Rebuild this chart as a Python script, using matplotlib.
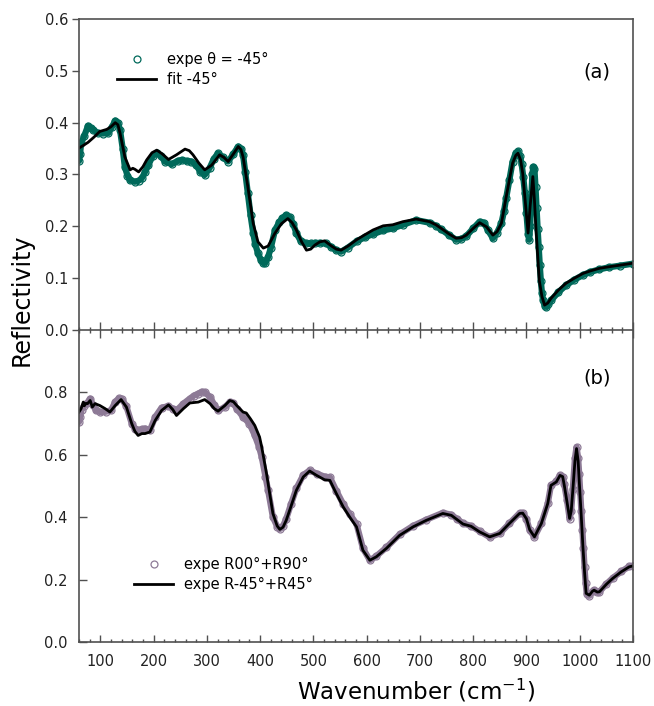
import matplotlib.pyplot as plt
from matplotlib.ticker import MultipleLocator

# (a) experiment theta = -45 deg
wn_a_exp = [60, 62, 64, 70, 77, 82, 87, 95, 105, 115, 122, 128, 133, 137, 142, 146, 151, 156,
            165, 172, 178, 184, 190, 198, 206, 214, 221, 234, 245, 253, 262, 271, 280, 288,
            296, 305, 313, 321, 330, 340, 350, 359, 364, 368, 372, 377, 382, 387, 391, 396,
            401, 406, 410, 415, 420, 428, 436, 442, 449, 456, 462, 468, 476, 487, 495, 503,
            512, 524, 534, 543, 552, 565, 581, 597, 612, 631, 649, 668, 693, 718, 730, 740,
            755, 768, 778, 787, 800, 812, 820, 828, 837, 845, 853, 858, 862, 868, 874, 880,
            884, 888, 891, 894, 897, 900, 903, 905, 907, 909, 911, 913, 915, 917, 919, 921,
            923, 925, 927, 929, 931, 934, 937, 941, 946, 960, 974, 990, 1006, 1020, 1037,
            1055, 1075, 1100]
r_a_exp = [0.326, 0.340, 0.360, 0.375, 0.394, 0.390, 0.386, 0.380, 0.379, 0.380, 0.392, 0.404,
           0.400, 0.386, 0.350, 0.315, 0.298, 0.289, 0.286, 0.288, 0.293, 0.305, 0.318, 0.335,
           0.342, 0.336, 0.325, 0.320, 0.326, 0.328, 0.326, 0.325, 0.318, 0.305, 0.299, 0.312,
           0.330, 0.341, 0.333, 0.325, 0.340, 0.354, 0.350, 0.338, 0.305, 0.264, 0.222, 0.187,
           0.165, 0.148, 0.136, 0.129, 0.130, 0.141, 0.158, 0.193, 0.208, 0.216, 0.222, 0.218,
           0.205, 0.187, 0.172, 0.167, 0.167, 0.168, 0.168, 0.167, 0.160, 0.154, 0.151, 0.159,
           0.171, 0.179, 0.185, 0.192, 0.196, 0.203, 0.212, 0.207, 0.201, 0.194, 0.183, 0.174,
           0.176, 0.181, 0.196, 0.209, 0.207, 0.192, 0.177, 0.188, 0.206, 0.230, 0.255, 0.290,
           0.325, 0.342, 0.345, 0.335, 0.320, 0.295, 0.265, 0.225, 0.185, 0.174, 0.200, 0.250,
           0.300, 0.315, 0.310, 0.275, 0.235, 0.195, 0.160, 0.125, 0.095, 0.072, 0.058, 0.047,
           0.045, 0.050, 0.057, 0.073, 0.086, 0.097, 0.106, 0.112, 0.117, 0.121, 0.124, 0.128]

# (a) fit -45 deg
wn_a_fit = [60, 68, 77, 88, 99, 112, 120, 128, 133, 137, 146, 156, 161, 165, 172, 180, 187, 197,
            206, 216, 228, 243, 259, 267, 274, 285, 296, 309, 324, 332, 340, 350, 359, 364, 368,
            377, 387, 396, 406, 415, 428, 440, 452, 460, 468, 478, 487, 495, 503, 512, 521, 534,
            543, 552, 565, 581, 597, 612, 631, 649, 668, 693, 718, 730, 740, 755, 768, 778, 787,
            800, 812, 825, 837, 845, 853, 862, 868, 874, 880, 884, 889, 893, 898, 903, 907, 912,
            915, 918, 924, 929, 934, 940, 946, 960, 974, 990, 1006, 1020, 1037, 1055, 1075, 1100]
r_a_fit = [0.351, 0.356, 0.362, 0.372, 0.383, 0.387, 0.392, 0.400, 0.396, 0.380, 0.334, 0.309,
           0.312, 0.310, 0.305, 0.315, 0.328, 0.342, 0.347, 0.340, 0.329, 0.338, 0.349, 0.346,
           0.338, 0.322, 0.309, 0.318, 0.338, 0.333, 0.325, 0.340, 0.354, 0.348, 0.334, 0.276,
           0.206, 0.170, 0.158, 0.162, 0.187, 0.205, 0.215, 0.207, 0.193, 0.170, 0.154, 0.156,
           0.164, 0.170, 0.172, 0.162, 0.156, 0.154, 0.162, 0.174, 0.184, 0.193, 0.201, 0.203,
           0.209, 0.214, 0.209, 0.203, 0.196, 0.185, 0.177, 0.178, 0.183, 0.196, 0.207, 0.199,
           0.183, 0.190, 0.206, 0.257, 0.290, 0.322, 0.337, 0.341, 0.328, 0.302, 0.245, 0.187,
           0.240, 0.296, 0.250, 0.193, 0.096, 0.065, 0.048, 0.052, 0.061, 0.077, 0.090, 0.100,
           0.109, 0.114, 0.119, 0.122, 0.125, 0.129]

# (b) expe R00+R90
wn_b_exp = [60, 62, 65, 70, 75, 81, 86, 92, 100, 110, 120, 128, 135, 140, 149, 159, 166, 171,
            178, 184, 193, 203, 215, 228, 236, 243, 256, 268, 276, 284, 290, 296, 306, 314, 321,
            334, 343, 350, 356, 368, 380, 390, 398, 403, 410, 415, 424, 432, 437, 443, 449, 458,
            468, 481, 493, 506, 521, 531, 543, 556, 568, 581, 593, 606, 618, 637, 662, 687, 712,
            743, 759, 770, 781, 796, 812, 831, 850, 868, 887, 893, 900, 906, 915, 928, 940, 946,
            956, 963, 968, 971, 976, 981, 984, 987, 991, 994, 997, 999, 1001, 1003, 1005, 1007,
            1009, 1011, 1013, 1018, 1024, 1027, 1033, 1037, 1050, 1062, 1078, 1093, 1100]
r_b_exp = [0.705, 0.720, 0.745, 0.757, 0.765, 0.780, 0.760, 0.742, 0.737, 0.738, 0.742, 0.770,
           0.781, 0.780, 0.755, 0.700, 0.682, 0.678, 0.682, 0.684, 0.678, 0.721, 0.751, 0.756,
           0.748, 0.742, 0.764, 0.780, 0.790, 0.796, 0.802, 0.801, 0.785, 0.760, 0.742, 0.753,
           0.769, 0.765, 0.748, 0.721, 0.700, 0.662, 0.625, 0.593, 0.530, 0.486, 0.400, 0.370,
           0.362, 0.372, 0.395, 0.442, 0.492, 0.535, 0.550, 0.540, 0.530, 0.528, 0.485, 0.442,
           0.410, 0.378, 0.300, 0.262, 0.275, 0.303, 0.345, 0.372, 0.392, 0.414, 0.408, 0.394,
           0.380, 0.372, 0.355, 0.336, 0.348, 0.380, 0.413, 0.414, 0.395, 0.358, 0.337, 0.380,
           0.444, 0.502, 0.515, 0.535, 0.530, 0.505, 0.455, 0.395, 0.420, 0.490, 0.590, 0.625,
           0.590, 0.540, 0.480, 0.420, 0.360, 0.300, 0.240, 0.190, 0.155, 0.148, 0.162, 0.166,
           0.160, 0.161, 0.186, 0.205, 0.226, 0.242, 0.245]

# (b) expe R-45+R45
wn_b_fit = [60, 64, 68, 70, 73, 76, 81, 85, 90, 99, 109, 118, 128, 139, 149, 159, 165, 171, 178,
            184, 193, 203, 215, 228, 236, 243, 256, 268, 284, 296, 306, 314, 321, 334, 343, 350,
            356, 368, 374, 382, 390, 399, 403, 412, 424, 432, 437, 443, 449, 458, 468, 481, 493,
            506, 521, 531, 543, 556, 568, 581, 593, 606, 618, 637, 662, 687, 712, 743, 759, 770,
            781, 796, 812, 831, 850, 868, 887, 893, 900, 906, 915, 928, 940, 946, 956, 963, 968,
            971, 976, 981, 984, 987, 991, 994, 997, 999, 1003, 1006, 1009, 1012, 1018, 1024,
            1027, 1033, 1037, 1050, 1062, 1078, 1093, 1100]
r_b_fit = [0.737, 0.748, 0.769, 0.757, 0.765, 0.764, 0.774, 0.753, 0.764, 0.758, 0.748, 0.737,
           0.758, 0.777, 0.753, 0.700, 0.675, 0.662, 0.668, 0.668, 0.673, 0.710, 0.742, 0.760,
           0.745, 0.726, 0.748, 0.766, 0.769, 0.777, 0.764, 0.748, 0.740, 0.758, 0.774, 0.770,
           0.758, 0.737, 0.734, 0.715, 0.694, 0.657, 0.625, 0.540, 0.412, 0.372, 0.361, 0.368,
           0.390, 0.435, 0.486, 0.529, 0.548, 0.534, 0.520, 0.518, 0.476, 0.433, 0.401, 0.369,
           0.294, 0.262, 0.273, 0.300, 0.342, 0.369, 0.390, 0.412, 0.406, 0.392, 0.378, 0.371,
           0.353, 0.337, 0.348, 0.380, 0.412, 0.413, 0.395, 0.360, 0.337, 0.380, 0.444, 0.502,
           0.513, 0.534, 0.530, 0.502, 0.450, 0.396, 0.420, 0.486, 0.580, 0.620, 0.580, 0.518,
           0.400, 0.305, 0.225, 0.156, 0.150, 0.163, 0.166, 0.160, 0.161, 0.185, 0.204, 0.225,
           0.241, 0.244]

teal = '#00695a'
mauve = '#8d7a96'
spine_col = '#505050'

fig = plt.figure(figsize=(6.54, 7.06), dpi=100)
W, H = 654, 706
ax2 = fig.add_axes([79 / W, 1 - 642 / H, 554 / W, 312 / H])
ax1 = fig.add_axes([79 / W, 1 - 330 / H, 554 / W, 311 / H])
ax1.patch.set_alpha(0)

# panel (a)
ax1.plot(wn_a_exp, r_a_exp, color=teal, lw=4.5, solid_joinstyle='round', solid_capstyle='round')
ax1.plot(wn_a_exp, r_a_exp, 'o', mfc='none', mec=teal, ms=5, mew=0.9,
         label='expe \u03b8 = -45\u00b0')
ax1.plot(wn_a_fit, r_a_fit, color='black', lw=2, label='fit -45\u00b0')
ax1.set_xlim(60, 1100)
ax1.set_ylim(0, 0.6)
ax1.yaxis.set_major_locator(MultipleLocator(0.1))
ax1.xaxis.set_major_locator(MultipleLocator(100))
ax1.xaxis.set_minor_locator(MultipleLocator(20))
ax1.tick_params(axis='x', which='major', direction='inout', length=12, width=1, colors=spine_col,
                labelbottom=False)
ax1.tick_params(axis='x', which='minor', direction='inout', length=5, width=1, colors=spine_col)
ax1.tick_params(axis='y', which='major', direction='out', length=5, width=1, pad=2.5,
                labelsize=10.5, colors=spine_col, labelcolor='#222222')
ax1.text(0.935, 0.83, '(a)', transform=ax1.transAxes, fontsize=14, ha='center', va='center')
ax1.legend(loc='upper left', bbox_to_anchor=(0.0686, 0.895), frameon=False, fontsize=10.5,
           borderpad=0, handlelength=2.7, handletextpad=0.75, labelspacing=0.35,
           borderaxespad=0)

# panel (b)
ax2.plot(wn_b_exp, r_b_exp, color=mauve, lw=4.5, solid_joinstyle='round', solid_capstyle='round')
ax2.plot(wn_b_exp, r_b_exp, 'o', mfc='none', mec=mauve, ms=5, mew=0.9,
         label='expe R00\u00b0+R90\u00b0')
ax2.plot(wn_b_fit, r_b_fit, color='black', lw=2, label='expe R-45\u00b0+R45\u00b0')
ax2.set_xlim(60, 1100)
ax2.set_ylim(0, 1.0)
ax2.set_yticks([0.0, 0.2, 0.4, 0.6, 0.8])
ax2.xaxis.set_major_locator(MultipleLocator(100))
ax2.xaxis.set_minor_locator(MultipleLocator(20))
ax2.tick_params(axis='x', which='major', direction='in', length=5, width=1, pad=9,
                labelsize=10.5, colors=spine_col, labelcolor='#222222')
ax2.tick_params(axis='x', which='minor', direction='in', length=2.5, width=1, colors=spine_col)
ax2.tick_params(axis='y', which='major', direction='in', length=6, width=1, pad=8.5,
                labelsize=10.5, colors=spine_col, labelcolor='#222222')
ax2.text(0.935, 0.845, '(b)', transform=ax2.transAxes, fontsize=14, ha='center', va='center')
ax2.legend(loc='upper left', bbox_to_anchor=(0.0993, 0.272), frameon=False, fontsize=10.5,
           borderpad=0, handlelength=2.7, handletextpad=0.7, labelspacing=0.35,
           borderaxespad=0)

for ax in (ax1, ax2):
    for s in ax.spines.values():
        s.set_color(spine_col)
        s.set_linewidth(1.2)
ax2.spines['top'].set_visible(False)

ax2.set_xlabel('Wavenumber (cm$^{-1}$)', fontsize=16.5)
ax2.xaxis.set_label_coords(0.608, -0.155)
ax2.xaxis.label.set_va('center')
fig.text(22 / W, 1 - 300 / H, 'Reflectivity', rotation=90, fontsize=17, ha='center', va='center')

plt.savefig('out.png', dpi=100)
